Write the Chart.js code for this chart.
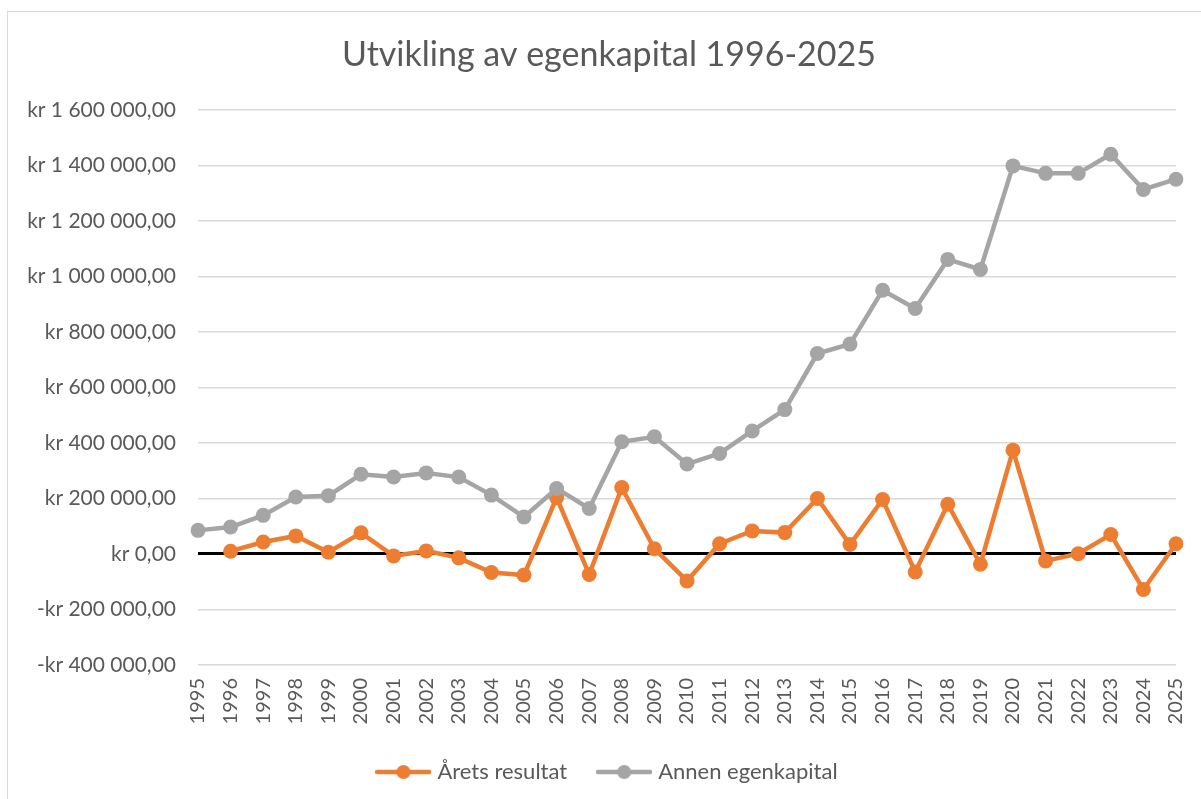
<!DOCTYPE html>
<html lang="no">
<head>
  <meta charset="UTF-8">
  <title>Utvikling av egenkapital 1996-2025</title>
  <script src="https://cdn.jsdelivr.net/npm/chart.js"></script>
  <style>
    html, body { margin: 0; padding: 0; background: #fff; overflow: hidden; }
    .ramme { position: absolute; left: 7px; top: 11px; width: 1300px; height: 900px; border: 1px solid #d9d9d9; }
    .boks { position: absolute; left: 0; top: 0; width: 1201px; height: 799px; }
  </style>
</head>
<body>
  <div class="ramme"></div>
  <div class="boks"><canvas id="egenkapital"></canvas></div>

  <script>
    // Data lest av fra figuren
    const aar = ['1995','1996','1997','1998','1999','2000','2001','2002','2003','2004','2005',
      '2006','2007','2008','2009','2010','2011','2012','2013','2014','2015',
      '2016','2017','2018','2019','2020','2021','2022','2023','2024','2025'];

    const aaretsResultat = [null, 10000, 43000, 65000, 6000, 76000, -7000, 11000, -14000, -67000, -76000,
      203000, -74000, 239000, 19000, -97000, 37000, 83000, 77000, 200000, 34000,
      196000, -65000, 179000, -37000, 374000, -25000, 1000, 70000, -128000, 37000];

    const annenEgenkapital = [85000, 97000, 139000, 205000, 210000, 287000, 277000, 292000, 277000, 212000, 133000,
      236000, 164000, 404000, 422000, 324000, 362000, 443000, 520000, 722000, 756000,
      950000, 884000, 1061000, 1025000, 1398000, 1371000, 1371000, 1440000, 1313000, 1350000];

    const yMin = -400000, yMax = 1600000, ySteg = 200000;

    const oransje = '#ed7d31';
    const graa = '#a5a5a5';
    const tekst = '#595959';
    const font = 'Lato, "Noto Sans", sans-serif';

    function kr(v) {
      const s = Math.abs(v).toFixed(0).replace(/\B(?=(\d{3})+(?!\d))/g, ' ');
      return (v < 0 ? '-' : '') + 'kr ' + s + ',00';
    }

    // Legend-symbol: linje med prikk
    function symbol(farge) {
      const c = document.createElement('canvas');
      c.width = 56; c.height = 16;
      const g = c.getContext('2d');
      g.strokeStyle = farge; g.lineWidth = 4.5; g.lineCap = 'round';
      g.beginPath(); g.moveTo(2, 8); g.lineTo(54, 8); g.stroke();
      g.fillStyle = farge;
      g.beginPath(); g.arc(28, 8, 7, 0, Math.PI * 2); g.fill();
      return c;
    }
    const symboler = [symbol(oransje), symbol(graa)];

    new Chart(document.getElementById('egenkapital'), {
      type: 'line',
      data: {
        labels: aar,
        datasets: [{
          label: 'Årets resultat',
          data: aaretsResultat,
          borderColor: oransje,
          backgroundColor: oransje,
          borderWidth: 4.5,
          pointRadius: 7.5,
          pointHoverRadius: 7.5,
          pointBorderWidth: 0,
          order: 1
        }, {
          label: 'Annen egenkapital',
          data: annenEgenkapital,
          borderColor: graa,
          backgroundColor: graa,
          borderWidth: 4.5,
          pointRadius: 7.5,
          pointHoverRadius: 7.5,
          pointBorderWidth: 0,
          order: 0
        }]
      },
      options: {
        responsive: true,
        maintainAspectRatio: false,
        animation: false,
        layout: { padding: { left: 24, right: 7, bottom: 6 } },
        plugins: {
          title: {
            display: true,
            text: 'Utvikling av egenkapital 1996-2025',
            color: tekst,
            font: { family: font, size: 34, weight: 'normal' },
            padding: { top: 35, bottom: 34 }
          },
          legend: {
            position: 'bottom',
            labels: {
              usePointStyle: true,
              pointStyleWidth: 46,
              color: tekst,
              font: { family: font, size: 22 },
              padding: 34,
              sort: (a, b) => a.datasetIndex - b.datasetIndex,
              generateLabels: (chart) => {
                const items = Chart.defaults.plugins.legend.labels.generateLabels(chart);
                items.forEach(it => { it.pointStyle = symboler[it.datasetIndex]; });
                return items;
              }
            }
          },
          tooltip: { enabled: false }
        },
        scales: {
          x: {
            offset: false,
            afterFit: (s) => { s.height = 62; s.paddingLeft = 0; s.paddingRight = 0; },
            grid: { display: false, drawTicks: false },
            border: { display: false },
            ticks: {
              color: tekst,
              font: { family: font, size: 20 },
              minRotation: 90,
              maxRotation: 90,
              autoSkip: false,
              padding: 13
            }
          },
          y: {
            min: yMin,
            max: yMax,
            afterFit: (s) => { s.width = 174; },
            grid: {
              drawTicks: false,
              color: (c) => c.tick && c.tick.value === 0 ? '#000000' : '#d9d9d9',
              lineWidth: (c) => c.tick && c.tick.value === 0 ? 3 : 1.5
            },
            border: { display: false },
            ticks: {
              stepSize: ySteg,
              color: tekst,
              font: { family: font, size: 21 },
              padding: 22,
              callback: (v) => kr(v)
            }
          },
          // tom akse til høyre, bare for å gi luft slik at tittel og legend står midt i rammen
          luft: {
            position: 'right',
            afterFit: (s) => { s.width = 18; },
            grid: { display: false, drawTicks: false },
            border: { display: false },
            ticks: { display: false }
          }
        }
      }
    });
  </script>
</body>
</html>
